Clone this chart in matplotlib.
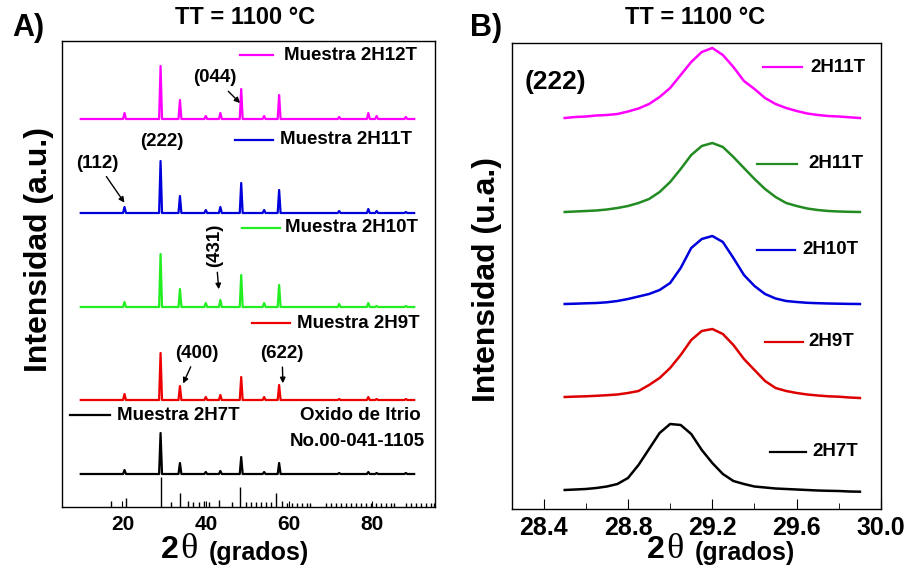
import numpy as np
import matplotlib
matplotlib.use("Agg")
import matplotlib.pyplot as plt

plt.rcParams['font.family'] = ['Liberation Sans', 'DejaVu Sans']
plt.rcParams['font.weight'] = 'bold'

# ---- panel A: XRD patterns (2theta 10-90), offsets in a.u.
peak_pos = [20.5, 29.15, 33.8, 40.0, 43.5, 48.5, 54.0, 57.6, 72.0, 79.0, 81.0, 88.0]
h_2h12t = [6, 53, 19, 3, 6, 30, 3, 24, 2, 6, 3, 2]
h_2h11t = [6, 52, 17, 3, 6, 30, 3, 23, 2, 4, 2, 1]
h_2h10t = [5, 53, 18, 4, 7, 32, 4, 22, 3, 4, 1, 1]
h_2h9t = [6, 47, 14, 3, 5, 23, 3, 15, 1, 3, 1, 1]
h_2h7t = [4, 41, 11, 2, 3, 17, 2, 11, 1, 2, 1, 1]
offsets_a = [388, 294, 200, 107, 33]
colors = ['#ff00ff', '#0000dd', '#22ee22', '#ee0000', '#000000']
labels_a = ['Muestra 2H12T', 'Muestra 2H11T', 'Muestra 2H10T', 'Muestra 2H9T', 'Muestra 2H7T']

# reference card Oxido de Itrio No.00-041-1105 (stick pattern)
ref_pos = [17.2, 20.8, 29.2, 31.6, 33.8, 35.8, 37.0, 38.4, 39.6, 40.8, 43.2, 46.4, 48.2,
           49.6, 50.8, 52.0, 53.2, 54.4, 55.6, 56.8, 58.2, 59.4, 60.6, 61.8, 63.0, 64.2,
           65.0, 68.8, 70.0, 71.2, 72.4, 73.6, 74.8, 76.0, 77.2, 78.4, 79.6, 80.8, 82.0,
           83.2, 84.4, 85.2, 88.0, 89.2, 90.4, 91.6, 92.8, 94.0, 94.7]
ref_int = [6, 9, 30, 5, 14, 6, 5, 5, 6, 5, 7, 5, 20,
           5, 5, 5, 5, 5, 5, 14, 6, 4, 4, 4, 4, 4,
           4, 4, 4, 4, 4, 4, 4, 4, 4, 4, 4, 4, 4,
           4, 4, 4, 4, 4, 4, 4, 4, 4, 4]

# ---- panel B: (222) reflection
tt_b = [28.50, 28.55, 28.60, 28.65, 28.70, 28.75, 28.80, 28.85, 28.90, 28.95,
        29.00, 29.05, 29.10, 29.15, 29.20, 29.25, 29.30, 29.35, 29.40, 29.45,
        29.50, 29.55, 29.60, 29.65, 29.70, 29.75, 29.80, 29.85, 29.90]
b_mag = [0, 1, 1.5, 2.5, 3, 4, 6.5, 9.5, 14, 21, 30, 43, 56, 66, 70, 63, 51, 37, 29, 20,
         14, 10, 7, 4.5, 3, 2, 1.5, 0.7, 0]
b_green = [0, 0.5, 1, 1.5, 2.5, 4, 6, 9, 13, 20, 30, 43, 57, 66, 69, 65, 55, 44, 33, 23,
           15, 9, 6, 3.5, 2, 1, 0.5, 0.2, 0]
b_blue = [0, 0.3, 0.7, 1, 1.7, 3, 5, 7.5, 10, 14, 21, 36, 56, 65, 68, 62, 46, 29, 18, 10,
          5.5, 3, 2, 1.2, 0.8, 0.5, 0.3, 0.1, 0]
b_red = [0, 0.4, 0.7, 1.2, 1.8, 2.5, 4, 6, 12, 19, 29, 42, 57, 66, 68, 63, 52, 38, 27, 16,
         9, 6, 4, 2.5, 1.5, 0.7, 0.3, -0.5, -1]
b_black = [0, 0.5, 1, 2, 3.5, 6, 12, 25, 41, 57, 66, 65, 56, 40, 27, 16, 9, 6, 3.5, 2.5,
           1.5, 1, 0.5, 0, -0.5, -0.8, -1, -1.5, -1.7]
offsets_b = [391, 297, 205, 112, 19]
colors_b = ['#ff00ff', '#228b22', '#0000dd', '#dd0000', '#000000']
labels_b = ['2H11T', '2H11T', '2H10T', '2H9T', '2H7T']

W, H = 908, 569
fig = plt.figure(figsize=(W / 100, H / 100), dpi=100)


def fx(px):
    return px / W


def fy(py):
    return 1 - py / H


axA = fig.add_axes([fx(62), fy(507), fx(435) - fx(62), fy(41) - fy(507)])
axB = fig.add_axes([fx(512), fy(509), fx(881) - fx(512), fy(43) - fy(509)])

# panel A curves, each peak drawn as a narrow spike
hw = 0.35
for heights, off, c in zip([h_2h12t, h_2h11t, h_2h10t, h_2h9t, h_2h7t], offsets_a, colors):
    xs, ys = [10], [off]
    for p, h in zip(peak_pos, heights):
        xs += [p - hw, p, p + hw]
        ys += [off, off + h, off]
    xs.append(90)
    ys.append(off)
    axA.plot(xs, ys, color=c, lw=1.6)

axA.vlines(ref_pos, 0, ref_int, color='black', lw=1)
axA.set_xlim(5.5, 95)
axA.set_ylim(0, 466)
axA.set_yticks([])
axA.set_xticks([20, 40, 60, 80])
axA.tick_params(axis='x', direction='in', length=4, labelsize=15, pad=6)

# legend-like entries in panel A (line + text)
leg_a = [(240, 273, 55, 284), (235, 273, 140, 280), (242, 280, 228, 285),
         (252, 290, 323, 297), (70, 110, 415, 117)]
for (x0, x1, yy, xt), c, lab in zip(leg_a, colors, labels_a):
    fig.add_artist(plt.Line2D([fx(x0), fx(x1)], [fy(yy), fy(yy)], color=c, lw=1.6))
    fig.text(fx(xt), fy(yy), lab, fontsize=13.5, fontweight='bold', va='center', ha='left')
fig.text(fx(421), fy(415), 'Oxido de Itrio', fontsize=13.5, fontweight='bold', va='center', ha='right')
fig.text(fx(425), fy(442), 'No.00-041-1105', fontsize=13.5, fontweight='bold', va='center', ha='right')

# hkl annotations (figure pixel coords)
ann = dict(arrowprops=dict(arrowstyle='-|>', color='black', lw=1, mutation_scale=8),
           fontsize=13.5, fontweight='bold', ha='center', va='center',
           xycoords='figure pixels', textcoords='figure pixels')
axA.annotate('(044)', xy=(242, H - 105), xytext=(215, H - 78), **ann)
axA.annotate('(112)', xy=(126, H - 205), xytext=(97, H - 163), **ann)
axA.annotate('(400)', xy=(182, H - 386), xytext=(197, H - 353), **ann)
axA.annotate('(622)', xy=(283, H - 386), xytext=(282, H - 353), **ann)
axA.annotate('(431)', xy=(219, H - 292), xytext=(215, H - 245), rotation=90, **ann)
fig.text(fx(162), fy(142), '(222)', fontsize=13.5, fontweight='bold', ha='center', va='center')

# panel B curves
for vals, off, c in zip([b_mag, b_green, b_blue, b_red, b_black], offsets_b, colors_b):
    axB.plot(tt_b, np.array(vals) + off, color=c, lw=1.8)
axB.set_xlim(28.25, 30.0)
axB.set_ylim(0, 466)
axB.set_yticks([])
axB.set_xticks([28.4, 28.8, 29.2, 29.6, 30.0])
axB.set_xticks([28.6, 29.0, 29.4, 29.8], minor=True)
axB.set_xticklabels(['28.4', '28.8', '29.2', '29.6', '30.0'])
axB.tick_params(axis='x', which='major', direction='in', length=7, labelsize=18, pad=5)
axB.tick_params(axis='x', which='minor', direction='in', length=4)

leg_b = [(763, 802, 67, 810), (757, 797, 164, 808), (757, 795, 250, 802),
         (765, 803, 342, 808), (770, 806, 452, 812)]
for (x0, x1, yy, xt), c, lab in zip(leg_b, colors_b, labels_b):
    fig.add_artist(plt.Line2D([fx(x0), fx(x1)], [fy(yy), fy(yy)], color=c, lw=1.6))
    fig.text(fx(xt), fy(yy), lab, fontsize=13.5, fontweight='bold', va='center', ha='left')
fig.text(fx(525), fy(82), '(222)', fontsize=19, fontweight='bold', va='center', ha='left')

for ax in (axA, axB):
    for s in ax.spines.values():
        s.set_linewidth(1.0)
    for t in ax.get_xticklabels():
        t.set_fontweight('bold')

# titles, panel letters, axis labels
fig.text(fx(245), fy(17), 'TT = 1100 °C', fontsize=17, fontweight='bold', ha='center', va='center')
fig.text(fx(695), fy(17), 'TT = 1100 °C', fontsize=17, fontweight='bold', ha='center', va='center')
fig.text(fx(12), fy(28), 'A)', fontsize=22, fontweight='bold', ha='left', va='center')
fig.text(fx(470), fy(28), 'B)', fontsize=22, fontweight='bold', ha='left', va='center')
fig.text(fx(39), fy(249), 'Intensidad (a.u.)', fontsize=23, fontweight='bold',
         rotation=90, ha='center', va='center')
fig.text(fx(487), fy(279), 'Intensidad (u.a.)', fontsize=23, fontweight='bold',
         rotation=90, ha='center', va='center')

for x2, xth, xg in [(161, 180, 209), (647, 666, 695)]:
    fig.text(fx(x2), fy(550), '2', fontsize=23, fontweight='bold', ha='left', va='center')
    fig.text(fx(xth), fy(549), 'θ', fontsize=26, fontweight='normal',
             family=['Liberation Serif', 'DejaVu Serif'], ha='left', va='center')
    fig.text(fx(xg), fy(553), '(grados)', fontsize=18, fontweight='bold', ha='left', va='center')

fig.savefig('out.png', dpi=100)
